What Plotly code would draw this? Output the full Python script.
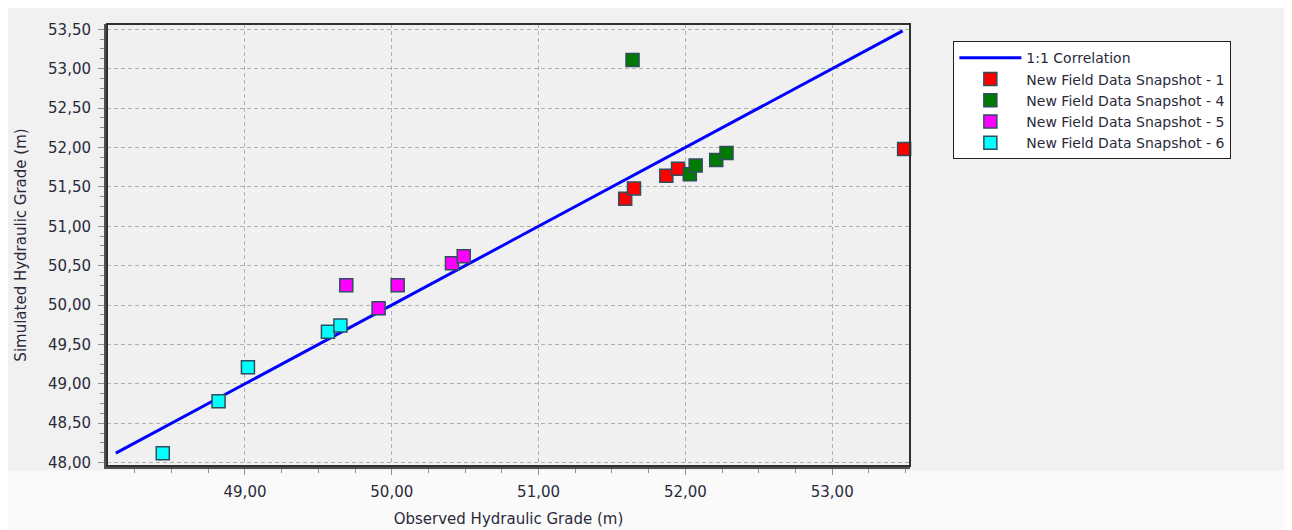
import plotly.graph_objects as go

# 1:1 correlation line endpoints (observed = simulated)
corr_x = [48.12, 53.48]
corr_y = [48.12, 53.48]

s1_x = [51.59, 51.65, 51.87, 51.95, 53.49]
s1_y = [51.35, 51.48, 51.64, 51.73, 51.98]

s4_x = [51.64, 52.03, 52.07, 52.21, 52.28]
s4_y = [53.11, 51.66, 51.77, 51.84, 51.93]

s5_x = [49.69, 49.91, 50.04, 50.41, 50.49]
s5_y = [50.25, 49.96, 50.25, 50.53, 50.62]

s6_x = [48.44, 48.82, 49.02, 49.565, 49.65]
s6_y = [48.12, 48.78, 49.21, 49.66, 49.74]

names = ["New Field Data Snapshot - 1", "New Field Data Snapshot - 4",
         "New Field Data Snapshot - 5", "New Field Data Snapshot - 6"]
colors = ["#ff0000", "#007a00", "#ff00ff", "#00ffff"]

FONT = "DejaVu Sans"

fig = go.Figure()
fig.add_trace(go.Scatter(x=corr_x, y=corr_y, mode="lines", name="1:1 Correlation",
                         line=dict(color="#0000ff", width=3)))
for xs, ys, nm, c in zip([s1_x, s4_x, s5_x, s6_x], [s1_y, s4_y, s5_y, s6_y], names, colors):
    fig.add_trace(go.Scatter(x=xs, y=ys, mode="markers", name=nm, cliponaxis=False,
                             marker=dict(symbol="square", size=13, color=c,
                                         line=dict(color="#2e4e5e", width=1.5))))

axis_common = dict(
    showgrid=True, gridcolor="#b0b0b0", griddash="4px,3px", gridwidth=1,
    zeroline=False, showline=True, linecolor="#505050", linewidth=3,
    mirror=False, ticks="outside", ticklen=6, tickcolor="#909090",
    tickfont=dict(family=FONT, size=15, color="#2a2a3a"),
    tickformat=".2f", ticklabelstandoff=4,
)

fig.update_xaxes(**axis_common, range=[48.06, 53.53], dtick=1, tick0=49,
                 minor=dict(dtick=0.25, ticklen=4, tickcolor="#909090", ticks="outside", showgrid=False),
                 title=dict(text="Observed Hydraulic Grade (m)", font=dict(family=FONT, size=15, color="#2a2a3a"),
                            standoff=14))
fig.update_yaxes(**axis_common, range=[47.957, 53.567], dtick=0.5, tick0=48,
                 minor=dict(dtick=0.125, ticklen=4, tickcolor="#909090", ticks="outside", showgrid=False),
                 title=dict(text="Simulated Hydraulic Grade (m)", font=dict(family=FONT, size=15, color="#2a2a3a"),
                            standoff=18))

fig.update_layout(
    width=1292, height=530,
    margin=dict(l=97, r=390, t=16, b=71),
    paper_bgcolor="#f1f1f1", plot_bgcolor="#f0f0f0",
    separators=",.",
    font=dict(family=FONT, size=14, color="#2a2a3a"),
    showlegend=True,
    legend=dict(x=1.054, y=0.961, xanchor="left", yanchor="top",
                bgcolor="#ffffff", bordercolor="#202020", borderwidth=1,
                font=dict(family=FONT, size=14, color="#2a2a3a"),
                tracegroupgap=0, itemwidth=62),
    shapes=[
        dict(type="rect", xref="paper", yref="paper", x0=-0.2, x1=1.6, y0=-0.2, y1=-0.01,
             fillcolor="#fafafa", line=dict(width=0), layer="below"),
        dict(type="rect", xref="paper", yref="paper", x0=0, x1=1, y0=0, y1=1,
             line=dict(color="#303030", width=2), fillcolor="rgba(0,0,0,0)"),
    ],
)

fig.write_html("out.html")
